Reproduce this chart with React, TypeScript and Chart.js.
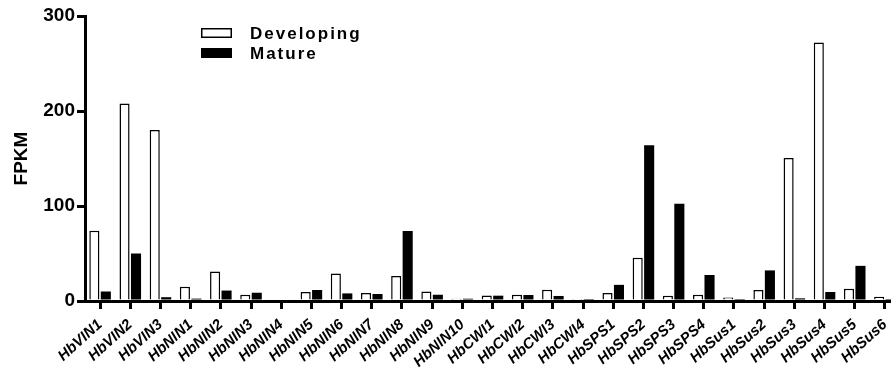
import React, { useEffect, useRef } from "react";
import { Chart, registerables } from "chart.js";

Chart.register(...registerables);

const genes = [
  "HbVIN1", "HbVIN2", "HbVIN3",
  "HbNIN1", "HbNIN2", "HbNIN3", "HbNIN4", "HbNIN5", "HbNIN6", "HbNIN7", "HbNIN8", "HbNIN9", "HbNIN10",
  "HbCWI1", "HbCWI2", "HbCWI3", "HbCWI4",
  "HbSPS1", "HbSPS2", "HbSPS3", "HbSPS4",
  "HbSus1", "HbSus2", "HbSus3", "HbSus4", "HbSus5", "HbSus6",
];

const developing = [
  74, 208, 180,
  15, 31, 6.6, 0, 9.5, 29, 8.4, 26.3, 10, 2.4,
  5.9, 6.6, 11.9, 0.5,
  8.4, 45.6, 5.6, 6.6,
  3.8, 11.6, 150.5, 272, 13, 4.5,
];

const mature = [
  10, 50, 4,
  2.5, 11, 8.7, 0, 11.6, 8, 7.4, 73.7, 6.6, 2.4,
  5.6, 6.3, 5.3, 0.4,
  17, 164, 102.4, 27.4,
  1, 32.2, 2.8, 9.5, 37, 0.5,
];

const yTicks = [0, 100, 200, 300];

const FONT = "'Liberation Sans', Arial, Helvetica, sans-serif";

const legendPlugin = {
  id: "insideLegend",
  afterDraw(chart: any) {
    const ctx = chart.ctx as CanvasRenderingContext2D;
    const ds = chart.data.datasets;
    ctx.save();
    ctx.font = `bold 17px ${FONT}`;
    (ctx as any).letterSpacing = "2px";
    ctx.textBaseline = "middle";
    ctx.textAlign = "left";
    ctx.fillStyle = "#000";
    const x0 = 201;
    const rows = [33, 53];
    ds.forEach((d: any, i: number) => {
      const cy = rows[i];
      if (i === 0) {
        ctx.fillStyle = "#fff";
        ctx.fillRect(x0, cy - 5, 31, 10);
        ctx.strokeStyle = "#000";
        ctx.lineWidth = 1.5;
        ctx.strokeRect(x0 + 0.75, cy - 5 + 0.75, 29.5, 8.5);
      } else {
        ctx.fillStyle = "#000";
        ctx.fillRect(x0, cy - 5, 31, 10);
      }
      ctx.fillStyle = "#000";
      ctx.fillText(d.label, 250, cy + 1);
    });
    ctx.restore();
  },
};

export default function App() {
  const ref = useRef<HTMLCanvasElement | null>(null);

  useEffect(() => {
    if (!ref.current) return;
    const chart = new Chart(ref.current, {
      type: "bar",
      data: {
        labels: genes,
        datasets: [
          {
            label: "Developing",
            data: developing,
            backgroundColor: "#ffffff",
            borderColor: "#000000",
            borderWidth: 1.5,
            borderSkipped: "bottom",
            barPercentage: 0.88,
            categoryPercentage: 0.76,
          },
          {
            label: "Mature",
            data: mature,
            backgroundColor: "#000000",
            borderColor: "#000000",
            borderWidth: 0,
            barPercentage: 0.88,
            categoryPercentage: 0.76,
          },
        ],
      },
      options: {
        responsive: false,
        animation: false,
        events: [],
        layout: { padding: { top: 16, right: 5, left: 0, bottom: 0 } },
        plugins: {
          legend: { display: false },
          tooltip: { enabled: false },
        },
        scales: {
          x: {
            offset: true,
            grid: {
              display: true,
              offset: false,
              drawOnChartArea: false,
              drawTicks: true,
              tickLength: 8,
              lineWidth: 3,
              color: "#000",
            },
            border: { display: true, width: 3, color: "#000" },
            ticks: {
              autoSkip: false,
              maxRotation: 42,
              minRotation: 42,
              padding: 7,
              color: "#000",
              font: { family: FONT, size: 15, weight: "bold", style: "italic" },
            },
            afterFit(scale: any) {
              scale.height = 69;
            },
          },
          y: {
            min: 0,
            max: 300,
            afterBuildTicks(scale: any) {
              scale.ticks = yTicks.map((v) => ({ value: v }));
            },
            grid: {
              display: true,
              drawOnChartArea: false,
              drawTicks: true,
              tickLength: 8,
              lineWidth: 3,
              color: "#000",
            },
            border: { display: true, width: 3, color: "#000" },
            ticks: {
              padding: 2,
              color: "#000",
              font: { family: FONT, size: 19, weight: "bold" },
            },
            title: {
              display: true,
              text: "FPKM",
              color: "#000",
              padding: { top: 10, bottom: 0 },
              font: { family: FONT, size: 19, weight: "bold" },
            },
            afterFit(scale: any) {
              scale.width = 85;
            },
          },
        },
      },
      plugins: [legendPlugin],
    });
    return () => chart.destroy();
  }, []);

  return (
    <div
      style={{
        position: "fixed",
        left: 0,
        top: 0,
        width: 891,
        height: 370,
        overflow: "hidden",
        background: "#fff",
      }}
    >
      <canvas ref={ref} width={905} height={370} style={{ display: "block" }} />
    </div>
  );
}
